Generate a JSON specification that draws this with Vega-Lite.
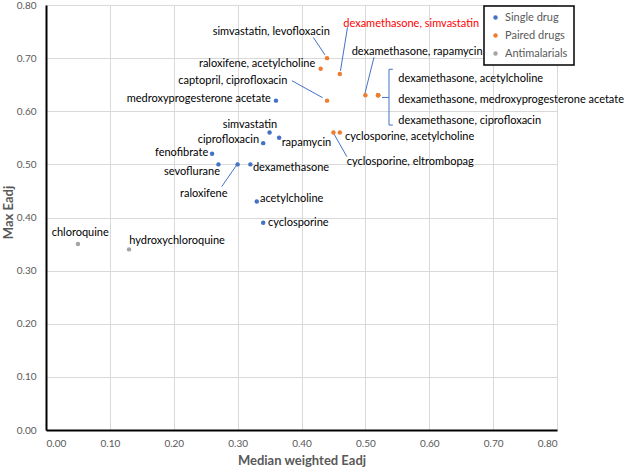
{
  "$schema": "https://vega.github.io/schema/vega-lite/v6.json",
  "width": 511,
  "height": 425,
  "autosize": {"type": "none"},
  "padding": {"left": 46, "top": 5, "right": 68, "bottom": 40},
  "background": "white",
  "config": {
    "view": {"stroke": null},
    "font": "Lato",
    "legend": {"strokeWidth": 1.5}
  },
  "datasets": {
    "points": [
      {"drug": "medroxyprogesterone acetate", "group": "Single drug", "median": 0.36, "max": 0.62},
      {"drug": "simvastatin", "group": "Single drug", "median": 0.35, "max": 0.56},
      {"drug": "rapamycin", "group": "Single drug", "median": 0.365, "max": 0.55},
      {"drug": "ciprofloxacin", "group": "Single drug", "median": 0.34, "max": 0.54},
      {"drug": "fenofibrate", "group": "Single drug", "median": 0.26, "max": 0.52},
      {"drug": "sevoflurane", "group": "Single drug", "median": 0.27, "max": 0.50},
      {"drug": "raloxifene", "group": "Single drug", "median": 0.30, "max": 0.50},
      {"drug": "dexamethasone", "group": "Single drug", "median": 0.32, "max": 0.50},
      {"drug": "acetylcholine", "group": "Single drug", "median": 0.33, "max": 0.43},
      {"drug": "cyclosporine", "group": "Single drug", "median": 0.34, "max": 0.39},
      {"drug": "simvastatin, levofloxacin", "group": "Paired drugs", "median": 0.44, "max": 0.70},
      {"drug": "raloxifene, acetylcholine", "group": "Paired drugs", "median": 0.43, "max": 0.68},
      {"drug": "dexamethasone, simvastatin", "group": "Paired drugs", "median": 0.46, "max": 0.67},
      {"drug": "captopril, ciprofloxacin", "group": "Paired drugs", "median": 0.44, "max": 0.62},
      {"drug": "dexamethasone, rapamycin", "group": "Paired drugs", "median": 0.50, "max": 0.63},
      {"drug": "dexamethasone, acetylcholine", "group": "Paired drugs", "median": 0.52, "max": 0.63},
      {"drug": "dexamethasone, medroxyprogesterone acetate", "group": "Paired drugs", "median": 0.52, "max": 0.63},
      {"drug": "dexamethasone, ciprofloxacin", "group": "Paired drugs", "median": 0.52, "max": 0.63},
      {"drug": "cyclosporine, eltrombopag", "group": "Paired drugs", "median": 0.45, "max": 0.56},
      {"drug": "cyclosporine, acetylcholine", "group": "Paired drugs", "median": 0.46, "max": 0.56},
      {"drug": "chloroquine", "group": "Antimalarials", "median": 0.05, "max": 0.35},
      {"drug": "hydroxychloroquine", "group": "Antimalarials", "median": 0.13, "max": 0.34}
    ],
    "leaders": [
      {"x1": 0.4185, "y1": 0.739, "x2": 0.4368, "y2": 0.706},
      {"x1": 0.472, "y1": 0.758, "x2": 0.461, "y2": 0.676},
      {"x1": 0.385, "y1": 0.6575, "x2": 0.433, "y2": 0.6255},
      {"x1": 0.5135, "y1": 0.7016, "x2": 0.4994, "y2": 0.634},
      {"x1": 0.275, "y1": 0.458, "x2": 0.2986, "y2": 0.499},
      {"x1": 0.451, "y1": 0.557, "x2": 0.471, "y2": 0.5145},
      {"x1": 0.537, "y1": 0.679, "x2": 0.537, "y2": 0.574},
      {"x1": 0.537, "y1": 0.679, "x2": 0.543, "y2": 0.679},
      {"x1": 0.537, "y1": 0.574, "x2": 0.543, "y2": 0.574},
      {"x1": 0.526, "y1": 0.626, "x2": 0.537, "y2": 0.626}
    ],
    "labels": [
      {"label": "simvastatin, levofloxacin", "lx": 0.261, "ly": 0.7497},
      {"label": "dexamethasone, simvastatin", "lx": 0.4654, "ly": 0.764},
      {"label": "raloxifene, acetylcholine", "lx": 0.2395, "ly": 0.689},
      {"label": "dexamethasone, rapamycin", "lx": 0.4786, "ly": 0.711},
      {"label": "captopril, ciprofloxacin", "lx": 0.2071, "ly": 0.6575},
      {"label": "medroxyprogesterone acetate", "lx": 0.1263, "ly": 0.6225},
      {"label": "dexamethasone, acetylcholine", "lx": 0.5515, "ly": 0.660},
      {"label": "dexamethasone, medroxyprogesterone acetate", "lx": 0.5515, "ly": 0.621},
      {"label": "dexamethasone, ciprofloxacin", "lx": 0.5515, "ly": 0.582},
      {"label": "simvastatin", "lx": 0.2766, "ly": 0.574},
      {"label": "ciprofloxacin", "lx": 0.2375, "ly": 0.546},
      {"label": "rapamycin", "lx": 0.369, "ly": 0.540},
      {"label": "cyclosporine, acetylcholine", "lx": 0.468, "ly": 0.552},
      {"label": "fenofibrate", "lx": 0.1706, "ly": 0.521},
      {"label": "sevoflurane", "lx": 0.1847, "ly": 0.486},
      {"label": "dexamethasone", "lx": 0.324, "ly": 0.4926},
      {"label": "cyclosporine, eltrombopag", "lx": 0.4708, "ly": 0.505},
      {"label": "raloxifene", "lx": 0.2098, "ly": 0.444},
      {"label": "acetylcholine", "lx": 0.335, "ly": 0.435},
      {"label": "cyclosporine", "lx": 0.3476, "ly": 0.389},
      {"label": "chloroquine", "lx": 0.0089, "ly": 0.370},
      {"label": "hydroxychloroquine", "lx": 0.1304, "ly": 0.356}
    ]
  },
  "layer": [
    {
      "data": {"name": "leaders"},
      "mark": {"type": "rule", "color": "#4472C4", "strokeWidth": 1},
      "encoding": {
        "x": {"field": "x1", "type": "quantitative", "scale": {"domain": [0, 0.8], "nice": false, "zero": false},
          "axis": {"title": "Median weighted Eadj", "values": [0, 0.1, 0.2, 0.3, 0.4, 0.5, 0.6, 0.7, 0.8], "format": ".2f",
            "grid": true, "gridColor": "#D9D9D9", "gridWidth": 1, "domainColor": "#000000", "domainWidth": 2, "ticks": false,
            "labelColor": "#595959", "labelFont": "Lato", "labelFontSize": 10, "labelPadding": 8,
            "titleFont": "Lato", "titleFontSize": 13, "titleFontWeight": "bold", "titleColor": "#595959", "titlePadding": 6}},
        "y": {"field": "y1", "type": "quantitative", "scale": {"domain": [0, 0.8], "nice": false, "zero": false},
          "axis": {"title": "Max Eadj", "values": [0, 0.1, 0.2, 0.3, 0.4, 0.5, 0.6, 0.7, 0.8], "format": ".2f",
            "grid": true, "gridColor": "#D9D9D9", "gridWidth": 1, "domainColor": "#000000", "domainWidth": 2, "ticks": false,
            "labelColor": "#595959", "labelFont": "Lato", "labelFontSize": 10, "labelPadding": 10,
            "titleFont": "Lato", "titleFontSize": 13, "titleFontWeight": "bold", "titleColor": "#595959",
            "titleX": -38, "titleY": 207, "titleAngle": -90, "titleBaseline": "middle", "titleAlign": "center"}},
        "x2": {"field": "x2"},
        "y2": {"field": "y2"}
      }
    },
    {
      "data": {"name": "points"},
      "mark": {"type": "point", "filled": true, "opacity": 1, "size": 20},
      "encoding": {
        "x": {"field": "median", "type": "quantitative"},
        "y": {"field": "max", "type": "quantitative"},
        "color": {"field": "group", "type": "nominal",
          "scale": {"domain": ["Single drug", "Paired drugs", "Antimalarials"], "range": ["#4472C4", "#ED7D31", "#A5A5A5"]},
          "legend": {"title": null, "orient": "none", "legendX": 438, "legendY": 1, "strokeColor": "#000000",
            "fillColor": "white", "padding": 6, "rowPadding": 6, "labelFont": "Lato", "labelFontSize": 11, "labelColor": "#595959",
            "symbolSize": 20, "symbolType": "circle", "labelOffset": 4}}
      }
    },
    {
      "data": {"name": "labels"},
      "mark": {"type": "text", "align": "left", "baseline": "middle", "font": "Lato", "fontSize": 11},
      "encoding": {
        "x": {"field": "lx", "type": "quantitative"},
        "y": {"field": "ly", "type": "quantitative"},
        "text": {"field": "label"},
        "color": {"condition": {"test": "datum.label === 'dexamethasone, simvastatin'", "value": "#FF0000"}, "value": "#000000"}
      }
    }
  ]
}
